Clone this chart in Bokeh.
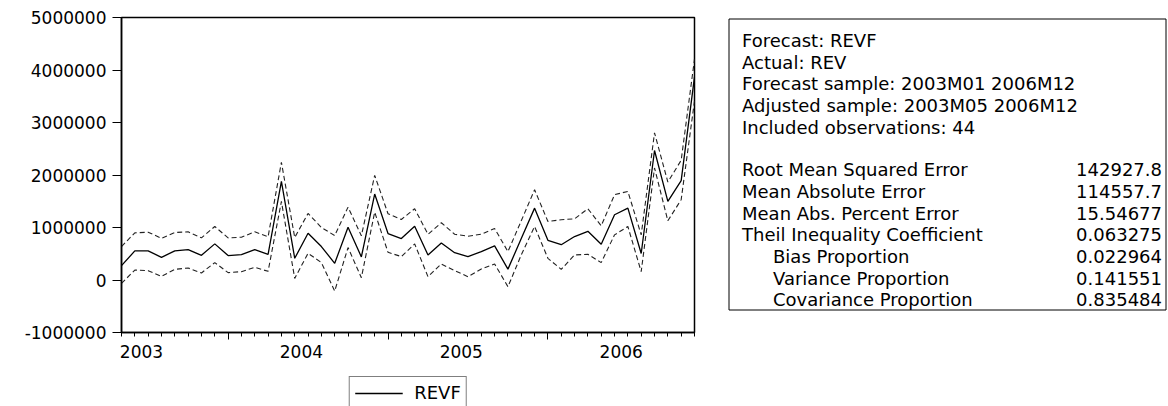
from bokeh.plotting import figure
from bokeh.layouts import row, column
from bokeh.models import (ColumnDataSource, Range1d, FixedTicker, LinearAxis,
                          NumeralTickFormatter, Legend, LegendItem)
from bokeh.core.properties import value
from bokeh.embed import file_html
from bokeh.resources import INLINE

# ---------------- data ----------------
periods = [f"{y}M{m:02d}" for y in range(2003, 2007) for m in range(1, 13)][4:]  # 2003M05..2006M12
year_labels = ["2003", "2004", "2005", "2006"]

revf = [273000, 554000, 554000, 432000, 554000, 580000, 470000, 688000, 465000, 484000,
        580000, 490000, 1880000, 413000, 891000, 637000, 318000, 1006000, 440000, 1637000,
        885000, 790000, 1025000, 475000, 705000, 520000, 446000, 541000, 650000, 207000,
        790000, 1369000, 755000, 672000, 828000, 927000, 680000, 1243000, 1369000, 505000,
        2467000, 1497000, 1893000, 3868000]
upper = [637000, 898000, 910000, 795000, 904000, 917000, 803000, 1019000, 803000, 815000,
         917000, 822000, 2243000, 809000, 1268000, 1000000, 847000, 1388000, 841000, 1994000,
         1262000, 1153000, 1357000, 870000, 1090000, 872000, 834000, 872000, 981000, 541000,
         1128000, 1720000, 1115000, 1147000, 1166000, 1357000, 1032000, 1625000, 1688000, 860000,
         2803000, 1866000, 2281000, 4206000]
lower = [-65000, 190000, 178000, 69000, 203000, 229000, 134000, 331000, 140000, 159000,
         241000, 165000, 1497000, 31000, 509000, 331000, -210000, 618000, 44000, 1293000,
         528000, 446000, 688000, 63000, 306000, 178000, 63000, 210000, 306000, -128000,
         478000, 1019000, 413000, 203000, 478000, 490000, 331000, 860000, 1019000, 159000,
         2134000, 1128000, 1530000, 3410000]
y_ticks = [-1000000, 0, 1000000, 2000000, 3000000, 4000000, 5000000]

header_lines = ["Forecast: REVF", "Actual: REV",
                "Forecast sample: 2003M01 2006M12",
                "Adjusted sample: 2003M05 2006M12",
                "Included observations: 44"]
stat_names = ["Root Mean Squared Error", "Mean Absolute Error",
              "Mean Abs. Percent Error", "Theil Inequality Coefficient",
              "Bias Proportion", "Variance Proportion", "Covariance Proportion"]
stat_values = ["142927.8", "114557.7", "15.54677", "0.063275",
               "0.022964", "0.141551", "0.835484"]
stat_indent = [False, False, False, False, True, True, True]

FONT = "DejaVu Sans"

# ---------------- layout constants (page pixels) ----------------
PW, PH, LH = 708, 366, 40          # main figure width/height, legend strip height
FR_TOP, FR_BOT = 17, 332
FR_LEFT, FR_RIGHT = 121, 694

# ---------------- main plot ----------------
idx = list(range(len(periods)))
src = ColumnDataSource(dict(idx=idx, revf=revf, upper=upper, lower=lower))

p = figure(width=PW, height=PH,
           x_range=Range1d(0, len(periods) - 1),
           y_range=Range1d(y_ticks[0], y_ticks[-1]),
           output_backend="svg", toolbar_location=None,
           min_border_left=FR_LEFT, min_border_right=PW - FR_RIGHT,
           min_border_top=FR_TOP, min_border_bottom=PH - FR_BOT)
p.grid.visible = False
p.outline_line_color = "black"
p.outline_line_width = 1.5
p.background_fill_color = "white"
p.border_fill_color = "white"

jan = [i for i, s in enumerate(periods) if s.endswith("M01")]
mid = [periods.index(y + "M06") + 0.5 for y in year_labels]

xa = p.xaxis[0]
xa.ticker = FixedTicker(ticks=jan, minor_ticks=idx)
xa.major_tick_out = 7
xa.major_tick_in = 0
xa.minor_tick_out = 4
xa.minor_tick_in = 0
xa.major_label_text_font_size = "0px"
xa.major_label_text_color = None
xa.major_label_standoff = 0
xa.axis_line_width = 1.5
xa.axis_line_color = "black"
xa.major_tick_line_color = "black"
xa.minor_tick_line_color = "black"

xa2 = LinearAxis(ticker=FixedTicker(ticks=mid, minor_ticks=[]),
                 major_label_overrides={m: y for m, y in zip(mid, year_labels)})
xa2.axis_line_color = None
xa2.major_tick_line_color = None
xa2.minor_tick_line_color = None
xa2.major_tick_out = 0
xa2.major_tick_in = 0
xa2.major_label_standoff = 5
xa2.major_label_text_font = FONT
xa2.major_label_text_font_size = "17px"
xa2.major_label_text_color = "black"
p.add_layout(xa2, "below")

ya = p.yaxis[0]
ya.ticker = FixedTicker(ticks=y_ticks, minor_ticks=[])
ya.formatter = NumeralTickFormatter(format="0")
ya.major_tick_out = 9
ya.major_tick_in = 0
ya.major_label_standoff = 6
ya.major_label_text_font = FONT
ya.major_label_text_font_size = "17px"
ya.major_label_text_color = "black"
ya.axis_line_width = 1.5
ya.axis_line_color = "black"
ya.major_tick_line_color = "black"

band_style = dict(line_color="#222222", line_width=1.1, line_dash="5 3")
main_style = dict(line_color="black", line_width=1.3)
p.line(x="idx", y="upper", source=src, **band_style)
p.line(x="idx", y="lower", source=src, **band_style)
p.line(x="idx", y="revf", source=src, **main_style)

# ---------------- legend strip under the plot ----------------
# the strip's ranges lie outside the data, so its copy of the REVF line only feeds the legend
lf = figure(width=PW, height=LH, x_range=Range1d(-100, -99), y_range=Range1d(-100, -99),
            output_backend="svg", toolbar_location=None,
            x_axis_type=None, y_axis_type=None,
            min_border_left=FR_LEFT, min_border_right=PW - FR_RIGHT,
            min_border_top=0, min_border_bottom=0)
lf.grid.visible = False
lf.outline_line_color = None
lf.background_fill_color = "white"
lf.border_fill_color = "white"
proxy = lf.line(x="idx", y="revf", source=src, **main_style)

legend = Legend(items=[LegendItem(label="REVF", renderers=[proxy])],
                location="top_center", orientation="horizontal")
legend.border_line_color = "black"
legend.border_line_width = 1
legend.background_fill_color = "white"
legend.background_fill_alpha = 1
legend.label_text_font = FONT
legend.label_text_font_size = "18px"
legend.label_text_color = "black"
legend.glyph_width = 48
legend.glyph_height = 16
legend.label_standoff = 12
legend.padding = 5
legend.spacing = 0
legend.margin = 10
lf.add_layout(legend, "center")

# ---------------- statistics panel ----------------
QW = 1168 - PW
q = figure(width=QW, height=PH, x_range=Range1d(PW, PW + QW), y_range=Range1d(FR_BOT, FR_TOP),
           output_backend="svg", toolbar_location=None,
           x_axis_type=None, y_axis_type=None,
           min_border_left=0, min_border_right=0,
           min_border_top=FR_TOP, min_border_bottom=PH - FR_BOT)
q.grid.visible = False
q.outline_line_color = None
q.background_fill_color = "white"
q.border_fill_color = "white"

q.quad(left=[728.5], right=[1165.5], top=[18.5], bottom=[309.5],
       fill_color=None, line_color="black", line_width=1)

row_h = 21.67
hsrc = ColumnDataSource(dict(x=[741.5] * len(header_lines),
                             y=[40 + k * row_h for k in range(len(header_lines))],
                             t=header_lines))
q.text(x="x", y="y", text="t", source=hsrc, text_font=value(FONT),
       text_font_size=value("18px"), text_color="black",
       text_align="left", text_baseline="alphabetic")

ssrc = ColumnDataSource(dict(x=[772.5 if ind else 741.5 for ind in stat_indent],
                             y=[169.3 + k * row_h for k in range(len(stat_names))],
                             t=stat_names, v=stat_values,
                             xv=[1161.5] * len(stat_values)))
q.text(x="x", y="y", text="t", source=ssrc, text_font=value(FONT),
       text_font_size=value("18px"), text_color="black",
       text_align="left", text_baseline="alphabetic")
q.text(x="xv", y="y", text="v", source=ssrc, text_font=value(FONT),
       text_font_size=value("18px"), text_color="black",
       text_align="right", text_baseline="alphabetic")

layout = column(row(p, q), lf)
open("out.html", "w").write(file_html(layout, INLINE))
